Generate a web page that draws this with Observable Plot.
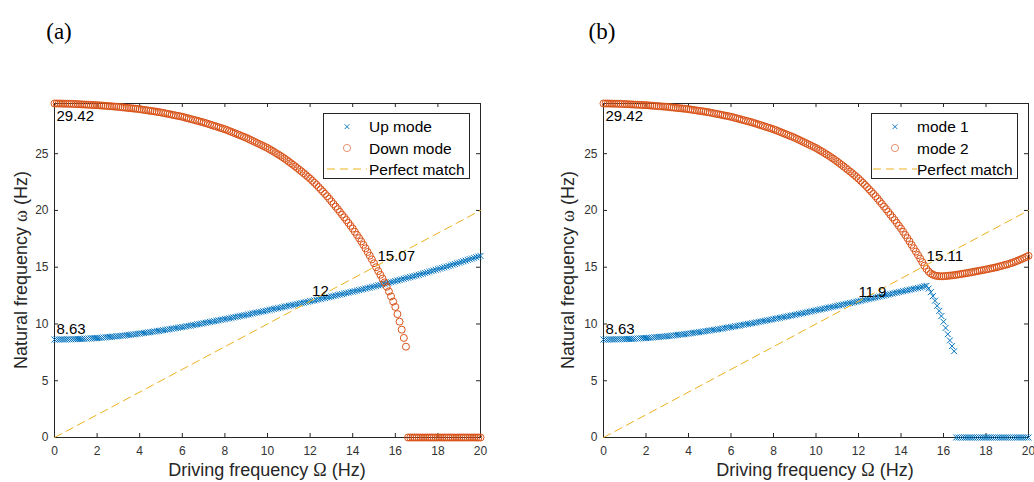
<!DOCTYPE html>
<html><head><meta charset="utf-8">
<script src="https://cdn.jsdelivr.net/npm/d3@7"></script>
<script src="https://cdn.jsdelivr.net/npm/@observablehq/plot@0.6"></script>
<style>
html,body{margin:0;padding:0;background:#fff;}
#wrap{position:relative;width:1034px;height:482px;overflow:hidden;font-family:"Liberation Sans",Arial,sans-serif;}
.panel{position:absolute;top:0;}
.tag{position:absolute;font-family:"Liberation Serif","Times New Roman",serif;font-size:23px;color:#000;transform:translate(-50%,-50%);white-space:nowrap;}
.xt{position:absolute;font-size:18px;color:#262626;white-space:nowrap;transform:translate(-50%,-50%);}
.yt{position:absolute;font-size:18px;color:#262626;white-space:nowrap;transform:translate(-50%,-50%) rotate(-90deg);}
.g{font-family:"Liberation Serif","DejaVu Serif",serif;}
.legend{position:absolute;}
</style></head><body><div id="wrap"></div>
<script>
// ---------- data ----------
const xTicks = [0, 2, 4, 6, 8, 10, 12, 14, 16, 18, 20];
const yTicks = [0, 5, 10, 15, 20, 25];
const yMax = 29.42;
// driving frequency grid (Hz), step 0.1 from 0 to 20
const drivingFreq = d3.range(0, 201).map(i => +(i / 10).toFixed(1));

// (a) Up mode
const upA = [
8.63,8.63,8.63,8.64,8.64,8.64,8.65,8.65,8.65,8.66,8.66,
8.67,8.68,8.69,8.70,8.71,8.72,8.73,8.74,8.75,8.76,
8.78,8.79,8.81,8.83,8.84,8.86,8.88,8.89,8.91,8.93,
8.95,8.97,8.99,9.01,9.04,9.06,9.08,9.10,9.13,9.15,
9.18,9.20,9.23,9.26,9.28,9.31,9.34,9.37,9.39,9.42,
9.45,9.48,9.51,9.54,9.57,9.60,9.64,9.67,9.70,9.73,
9.76,9.80,9.83,9.86,9.90,9.93,9.97,10.00,10.03,10.07,
10.10,10.14,10.18,10.21,10.25,10.28,10.32,10.36,10.39,10.43,
10.47,10.50,10.54,10.58,10.62,10.65,10.69,10.73,10.76,10.80,
10.84,10.88,10.92,10.96,11.00,11.04,11.08,11.12,11.16,11.20,
11.24,11.28,11.32,11.36,11.40,11.44,11.48,11.52,11.56,11.60,
11.64,11.68,11.72,11.76,11.80,11.84,11.88,11.92,11.96,12.00,
12.04,12.08,12.13,12.17,12.21,12.25,12.29,12.34,12.38,12.42,
12.46,12.50,12.55,12.59,12.63,12.68,12.72,12.76,12.81,12.85,
12.89,12.94,12.98,13.03,13.07,13.12,13.16,13.21,13.25,13.30,
13.35,13.40,13.44,13.49,13.54,13.59,13.64,13.68,13.73,13.78,
13.83,13.88,13.93,13.98,14.03,14.08,14.13,14.18,14.23,14.28,
14.33,14.39,14.44,14.50,14.55,14.60,14.66,14.71,14.77,14.82,
14.88,14.94,14.99,15.05,15.11,15.17,15.23,15.28,15.34,15.40,
15.46,15.52,15.58,15.64,15.70,15.76,15.82,15.88,15.94,16.00];

// (a) Down mode
const downA = [
29.42,29.42,29.42,29.41,29.41,29.40,29.40,29.39,29.39,29.38,29.37,
29.36,29.35,29.34,29.33,29.32,29.31,29.30,29.29,29.28,29.27,
29.26,29.24,29.23,29.21,29.20,29.18,29.17,29.15,29.14,29.12,
29.10,29.08,29.06,29.04,29.02,29.00,28.98,28.96,28.94,28.92,
28.89,28.86,28.83,28.80,28.77,28.75,28.72,28.69,28.66,28.63,
28.59,28.55,28.51,28.48,28.44,28.40,28.36,28.33,28.29,28.25,
28.20,28.15,28.10,28.05,28.00,27.95,27.90,27.85,27.80,27.75,
27.69,27.63,27.57,27.51,27.45,27.39,27.33,27.27,27.21,27.15,
27.08,27.00,26.93,26.85,26.78,26.70,26.63,26.55,26.48,26.40,
26.31,26.22,26.13,26.04,25.95,25.86,25.77,25.68,25.59,25.50,
25.39,25.28,25.17,25.05,24.94,24.82,24.70,24.57,24.44,24.30,
24.16,24.02,23.88,23.73,23.58,23.43,23.28,23.12,22.96,22.80,
22.62,22.44,22.26,22.06,21.86,21.66,21.46,21.25,21.03,20.80,
20.57,20.34,20.11,19.87,19.63,19.39,19.15,18.90,18.65,18.40,
18.12,17.84,17.56,17.27,16.97,16.66,16.34,16.02,15.69,15.35,
15.00,14.66,14.33,14.00,13.66,13.28,12.87,12.43,11.97,11.50,
10.87,10.20,9.50,8.77,8.00,
0,0,0,0,0,0,0,0,0,0,0,0,0,0,0,0,0,0,0,0,0,0,0,0,0,0,0,0,0,0,0,0,0,0,0];

// (b) mode 1
const mode1B = [
8.63,8.63,8.63,8.64,8.64,8.64,8.65,8.65,8.65,8.66,8.66,
8.67,8.68,8.69,8.70,8.71,8.72,8.73,8.74,8.75,8.76,
8.78,8.79,8.81,8.83,8.84,8.86,8.88,8.89,8.91,8.93,
8.95,8.97,8.99,9.01,9.04,9.06,9.08,9.10,9.13,9.15,
9.18,9.20,9.23,9.26,9.28,9.31,9.34,9.37,9.39,9.42,
9.45,9.48,9.51,9.54,9.57,9.60,9.64,9.67,9.70,9.73,
9.76,9.80,9.83,9.86,9.90,9.93,9.97,10.00,10.03,10.07,
10.10,10.14,10.18,10.21,10.25,10.28,10.32,10.36,10.39,10.43,
10.47,10.50,10.54,10.58,10.62,10.65,10.69,10.73,10.76,10.80,
10.84,10.88,10.92,10.96,11.00,11.04,11.08,11.12,11.16,11.20,
11.24,11.28,11.32,11.36,11.40,11.44,11.48,11.52,11.56,11.60,
11.64,11.68,11.72,11.76,11.80,11.84,11.88,11.92,11.96,12.00,
12.04,12.08,12.13,12.17,12.21,12.25,12.29,12.34,12.38,12.42,
12.46,12.50,12.55,12.59,12.63,12.68,12.72,12.76,12.81,12.85,
12.89,12.93,12.97,13.01,13.05,13.09,13.13,13.17,13.22,13.27,
13.33,13.36,13.12,12.80,12.45,12.05,11.60,11.15,10.70,10.20,
9.65,9.10,8.55,8.05,7.60,
0,0,0,0,0,0,0,0,0,0,0,0,0,0,0,0,0,0,0,0,0,0,0,0,0,0,0,0,0,0,0,0,0,0,0];

// (b) mode 2
const mode2B = [
29.42,29.42,29.42,29.41,29.41,29.40,29.40,29.39,29.39,29.38,29.37,
29.36,29.35,29.34,29.33,29.32,29.31,29.30,29.29,29.28,29.27,
29.26,29.24,29.23,29.21,29.20,29.18,29.17,29.15,29.14,29.12,
29.10,29.08,29.06,29.04,29.02,29.00,28.98,28.96,28.94,28.92,
28.89,28.86,28.83,28.80,28.77,28.75,28.72,28.69,28.66,28.63,
28.59,28.55,28.51,28.48,28.44,28.40,28.36,28.33,28.29,28.25,
28.20,28.15,28.10,28.05,28.00,27.95,27.90,27.85,27.80,27.75,
27.69,27.63,27.57,27.51,27.45,27.39,27.33,27.27,27.21,27.15,
27.08,27.00,26.93,26.85,26.78,26.70,26.63,26.55,26.48,26.40,
26.31,26.22,26.13,26.04,25.95,25.86,25.77,25.68,25.59,25.50,
25.39,25.28,25.17,25.05,24.94,24.82,24.70,24.57,24.44,24.30,
24.16,24.02,23.88,23.73,23.58,23.43,23.28,23.12,22.96,22.80,
22.62,22.44,22.26,22.06,21.86,21.66,21.46,21.25,21.03,20.80,
20.57,20.34,20.11,19.87,19.63,19.39,19.15,18.90,18.65,18.40,
18.12,17.84,17.56,17.27,16.97,16.67,16.37,16.07,15.76,15.45,
15.13,14.85,14.62,14.45,14.34,14.27,14.23,14.21,14.20,14.21,
14.22,14.24,14.26,14.28,14.30,14.33,14.36,14.39,14.42,14.45,
14.48,14.52,14.55,14.59,14.62,14.66,14.69,14.73,14.76,14.80,
14.84,14.88,14.92,14.96,15.00,15.05,15.10,15.15,15.20,15.25,
15.31,15.37,15.44,15.51,15.58,15.66,15.74,15.82,15.91,16.00];

// perfect match line
const matchX = [0, 20];
const matchY = [0, 20];

// annotations
const annotTopA = {x: [0], y: [29.42], text: ["29.42"]};
const annotA = {x: [0, 12, 15.07], y: [8.63, 12, 15.07], text: ["8.63", "12", "15.07"]};
const annotTopB = {x: [0], y: [29.42], text: ["29.42"]};
const annotB = {x: [0, 11.9, 15.11], y: [8.63, 11.9, 15.11], text: ["8.63", "11.9", "15.11"]};

const legendA = ["Up mode", "Down mode", "Perfect match"];
const legendB = ["mode 1", "mode 2", "Perfect match"];

// ---------- colours ----------
const BLUE = "#0072BD", ORANGE = "#D95319", YELLOW = "#EDB120", AXIS = "#262626";

const toRows = (xs, ys) => xs.map((x, i) => ({x, y: ys[i]}));
const toLabels = a => a.x.map((x, i) => ({x, y: a.y[i], text: a.text[i]}));

function panel({first, second, annTop, ann, marginLeft, marginRight}) {
  const W = 517, H = 482, mt = 103, mb = 45;
  const innerW = W - marginLeft - marginRight, innerH = H - mt - mb;
  return Plot.plot({
    width: W, height: H, marginLeft, marginRight, marginTop: mt, marginBottom: mb,
    x: {domain: [0, 20]},
    y: {domain: [0, yMax]},
    style: {fontFamily: "'Liberation Sans', Arial, sans-serif", fontSize: "12px", color: AXIS, background: "transparent", overflow: "visible"},
    marks: [
      Plot.frame({stroke: AXIS, strokeWidth: 1}),
      Plot.tickX(xTicks, {x: d => d, insetTop: innerH - 4, stroke: AXIS}),
      Plot.tickX(xTicks, {x: d => d, insetBottom: innerH - 4, stroke: AXIS}),
      Plot.tickY(yTicks, {y: d => d, insetLeft: innerW - 4, stroke: AXIS}),
      Plot.tickY(yTicks, {y: d => d, insetRight: innerW - 4, stroke: AXIS}),
      Plot.axisX(xTicks, {tickSize: 0, tickPadding: 9, label: null, fill: "#333"}),
      Plot.axisY(yTicks, {tickSize: 0, tickPadding: 6, label: null, fill: "#333"}),
      Plot.dot(first, {x: "x", y: "y", symbol: "times", r: 2.8, stroke: BLUE, strokeWidth: 1}),
      Plot.dot(second, {x: "x", y: "y", symbol: "circle", r: 3.5, fill: "none", stroke: ORANGE, strokeWidth: 1}),
      Plot.line(toRows(matchX, matchY), {x: "x", y: "y", stroke: YELLOW, strokeWidth: 1, strokeDasharray: "8,5"}),
      Plot.text(toLabels(annTop), {x: "x", y: "y", text: "text", textAnchor: "start", lineAnchor: "middle", dx: 2, dy: 13, fontSize: 15, fill: "#000"}),
      Plot.text(toLabels(ann), {x: "x", y: "y", text: "text", textAnchor: "start", lineAnchor: "middle", dx: 2, dy: -10, fontSize: 15, fill: "#000"})
    ]
  });
}

const wrap = document.getElementById("wrap");

function place(el, left) {
  el.classList.add("panel");
  el.style.left = left + "px";
  wrap.appendChild(el);
}

place(panel({
  first: toRows(drivingFreq, upA), second: toRows(drivingFreq, downA),
  annTop: annotTopA, ann: annotA, marginLeft: 54, marginRight: 37
}), 0);
place(panel({
  first: toRows(drivingFreq, mode1B), second: toRows(drivingFreq, mode2B),
  annTop: annotTopB, ann: annotB, marginLeft: 86, marginRight: 6
}), 517);

function addDiv(cls, html, x, y) {
  const d = document.createElement("div");
  d.className = cls; d.innerHTML = html;
  d.style.left = x + "px"; d.style.top = y + "px";
  wrap.appendChild(d);
}
addDiv("tag", "(a)", 59, 32);
addDiv("tag", "(b)", 602, 32);
const xTitle = 'Driving frequency <span class="g">Ω</span> (Hz)';
const yTitle = 'Natural frequency <span class="g">ω</span> (Hz)';
addDiv("xt", xTitle, 267, 470);
addDiv("xt", xTitle, 815, 470);
addDiv("yt", yTitle, 21, 270);
addDiv("yt", yTitle, 568, 270);

function legend(items, left, top, symX, textX, dash0, dash1) {
  const w = 147, h = 66;
  const svg = d3.create("svg").attr("class", "legend").attr("width", w).attr("height", h)
    .style("left", left + "px").style("top", top + "px");
  svg.append("rect").attr("x", 0.5).attr("y", 0.5).attr("width", w - 1).attr("height", h - 1)
    .attr("fill", "#fff").attr("stroke", AXIS).attr("stroke-width", 1);
  const rows = [13.7, 35, 56];
  const s = 2.4;
  svg.append("path").attr("d", `M${symX - s},${rows[0] - s}L${symX + s},${rows[0] + s}M${symX - s},${rows[0] + s}L${symX + s},${rows[0] - s}`)
    .attr("stroke", BLUE).attr("stroke-width", 0.9).attr("fill", "none");
  svg.append("circle").attr("cx", symX).attr("cy", rows[1]).attr("r", 3.6)
    .attr("stroke", ORANGE).attr("stroke-opacity", 0.7).attr("stroke-width", 0.9).attr("fill", "none");
  svg.append("line").attr("x1", dash0).attr("x2", dash1).attr("y1", rows[2]).attr("y2", rows[2])
    .attr("stroke", YELLOW).attr("stroke-width", 1).attr("stroke-dasharray", "8,5");
  items.forEach((t, i) => {
    svg.append("text").attr("x", textX).attr("y", rows[i]).attr("dy", "0.36em")
      .attr("font-family", "'Liberation Sans', Arial, sans-serif").attr("font-size", 15.5)
      .attr("fill", "#000").text(t);
  });
  wrap.appendChild(svg.node());
}
legend(legendA, 323, 113, 24, 46, 4, 44);
legend(legendB, 871, 113, 24, 46, 2, 46);
</script></body></html>
